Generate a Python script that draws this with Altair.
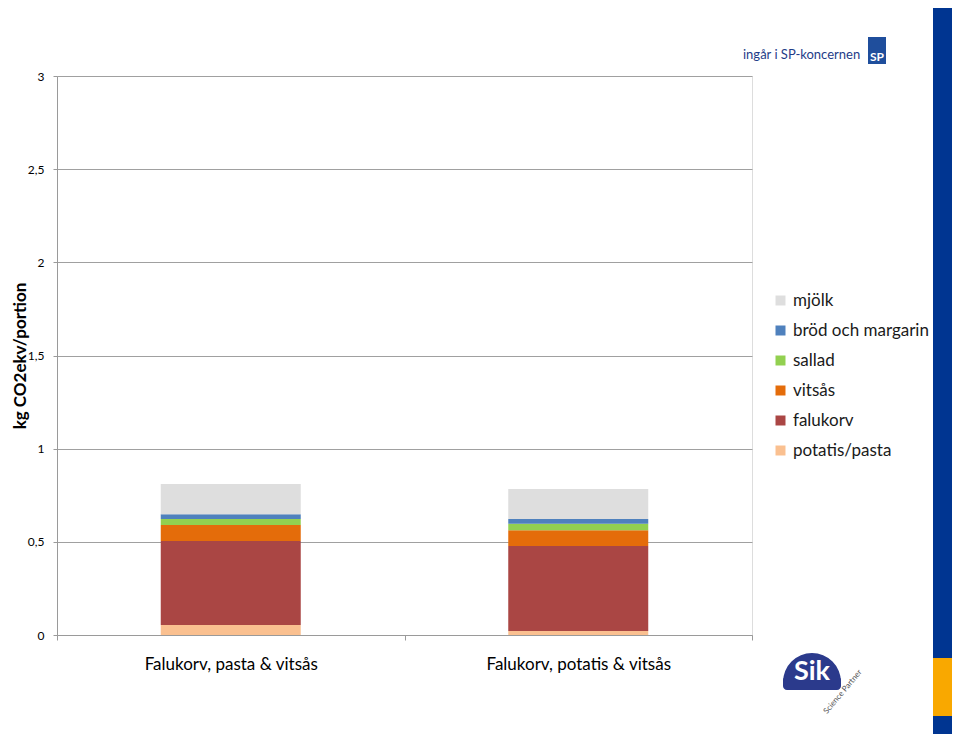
import altair as alt
import pandas as pd

categories = ["Falukorv, pasta & vitsås", "Falukorv, potatis & vitsås"]
components = ["potatis/pasta", "falukorv", "vitsås", "sallad", "bröd och margarin", "mjölk"]
values_pasta = [0.054, 0.451, 0.085, 0.033, 0.025, 0.162]
values_potatis = [0.022, 0.456, 0.084, 0.035, 0.026, 0.161]
legend_order = ["mjölk", "bröd och margarin", "sallad", "vitsås", "falukorv", "potatis/pasta"]
legend_colors = ["#DEDEDE", "#4F81BD", "#92D050", "#E46C0A", "#AA4644", "#FAC090"]
y_ticks = [0, 0.5, 1, 1.5, 2, 2.5, 3]

rows = []
for cat, vals in zip(categories, [values_pasta, values_potatis]):
    for i, (comp, v) in enumerate(zip(components, vals)):
        rows.append({"kategori": cat, "komponent": comp, "varde": v, "ordning": i})
df = pd.DataFrame(rows)

FONT = "Lato"

bars = alt.Chart(df).mark_bar(size=140).encode(
    x=alt.X("kategori:N", sort=categories, title=None,
            scale=alt.Scale(paddingInner=0, paddingOuter=0),
            axis=alt.Axis(labelAngle=0, labelFontSize=17, labelColor="#000000",
                          labelFont=FONT, tickBand="extent", tickSize=5,
                          tickColor="#9a9a9a", domainColor="#9a9a9a",
                          labelPadding=16, labelLimit=400, grid=False)),
    y=alt.Y("varde:Q", stack="zero", title="kg CO2ekv/portion",
            scale=alt.Scale(domain=[0, 3], nice=False),
            axis=alt.Axis(values=y_ticks, labelExpr="replace(toString(datum.value), '.', ',')",
                          labelFontSize=12, labelColor="#000000", labelFont=FONT,
                          tickSize=4, tickColor="#9a9a9a", domainColor="#9a9a9a",
                          gridColor="#a0a0a0", labelPadding=9,
                          titleFont=FONT, titleFontSize=17, titleFontWeight="bold",
                          titleColor="#000000", titleAngle=-90, titleX=-37, titleY=279.5,
                          titleAlign="center", titleBaseline="middle")),
    color=alt.Color("komponent:N",
                    scale=alt.Scale(domain=legend_order, range=legend_colors),
                    legend=alt.Legend(title=None, orient="none", legendX=715, legendY=216,
                                      symbolType="square", symbolSize=100,
                                      symbolStrokeWidth=0, labelFontSize=17,
                                      labelFont=FONT, labelColor="#1a1a1a",
                                      rowPadding=12, labelOffset=4, labelLimit=300)),
    order=alt.Order("ordning:Q", sort="ascending"),
)

one = pd.DataFrame({"a": [1]})
deco_band = alt.Chart(one).mark_rect(color="#003591").encode(
    x=alt.value(876), x2=alt.value(900), y=alt.value(-80), y2=alt.value(680))
deco_orange = alt.Chart(one).mark_rect(color="#F9A800").encode(
    x=alt.value(876), x2=alt.value(900), y=alt.value(582), y2=alt.value(640))
deco_sp_text = alt.Chart(one).mark_text(text="ingår i SP-koncernen", font=FONT, fontSize=13,
                                         color="#1F3C88", align="left", baseline="middle").encode(
    x=alt.value(686), y=alt.value(-21))
deco_sp_box = alt.Chart(one).mark_rect(color="#1F4E9C").encode(
    x=alt.value(811), x2=alt.value(829), y=alt.value(-39), y2=alt.value(-12))
deco_sp_letters = alt.Chart(one).mark_text(text="SP", font=FONT, fontSize=12, fontWeight="bold",
                                            color="white", baseline="middle").encode(
    x=alt.value(820), y=alt.value(-19))
deco_sik_arc = alt.Chart(one).mark_arc(color="#2B3A8C", outerRadius=29).encode(
    theta=alt.value(4.712), theta2=alt.value(7.854), x=alt.value(755), y=alt.value(606))
deco_sik_base = alt.Chart(one).mark_rect(color="#2B3A8C", cornerRadius=4).encode(
    x=alt.value(726), x2=alt.value(784), y=alt.value(600), y2=alt.value(614))
deco_sik_text = alt.Chart(one).mark_text(text="Sik", font=FONT, fontSize=27, fontWeight="bold",
                                          color="white", baseline="middle").encode(
    x=alt.value(755), y=alt.value(596))
deco_sik_sub = alt.Chart(one).mark_text(text="Science Partner", font=FONT, fontSize=8,
                                         color="#555555", angle=310, baseline="middle").encode(
    x=alt.value(786), y=alt.value(616))

chart = alt.layer(
    bars, deco_band, deco_orange, deco_sp_text, deco_sp_box, deco_sp_letters,
    deco_sik_arc, deco_sik_base, deco_sik_text, deco_sik_sub
).properties(
    width=695, height=559,
    autosize=alt.AutoSizeParams(type="none"),
    padding={"left": 49, "top": 68, "right": 200, "bottom": 99},
).configure_view(stroke=None).configure(background="white")

chart.save("out.html", embed_options={"renderer": "svg", "actions": False})
